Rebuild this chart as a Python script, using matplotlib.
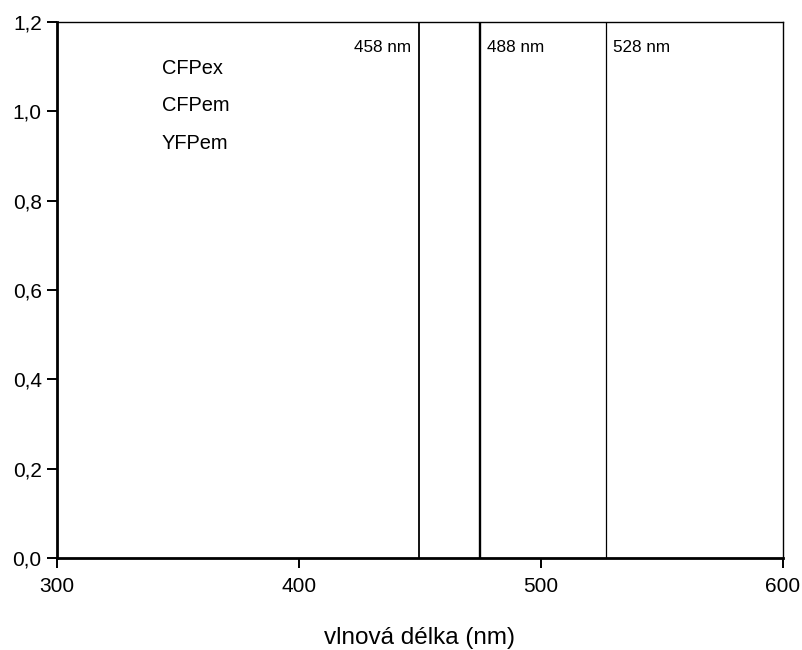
import matplotlib
matplotlib.use("Agg")
import matplotlib.pyplot as plt
from matplotlib.ticker import FuncFormatter

plt.rcParams['font.family'] = ['Liberation Sans', 'DejaVu Sans']

# laser lines (position on axis, label)
line_pos = [449.5, 474.9, 526.7]
line_labels = ['458 nm', '488 nm', '528 nm']
line_widths = [1.3, 1.7, 0.9]

# legend names (curves themselves are not visible)
series_names = ['CFPex', 'CFPem', 'YFPem']

x_ticks = [300, 400, 500, 600]
y_ticks = [0.0, 0.2, 0.4, 0.6, 0.8, 1.0, 1.2]

fig = plt.figure(figsize=(8.03, 6.5), dpi=100)
ax = fig.add_axes([0.071, 0.1415, 0.904, 0.8245])

for x, lw in zip(line_pos, line_widths):
    ax.axvline(x, color='black', lw=lw)

ax.text(line_pos[0] - 3.2, 1.144, line_labels[0], ha='right', va='center', fontsize=12.3)
ax.text(line_pos[1] + 2.8, 1.144, line_labels[1], ha='left', va='center', fontsize=12.3)
ax.text(line_pos[2] + 3.1, 1.144, line_labels[2], ha='left', va='center', fontsize=12.3)

legend_y = [1.097, 1.014, 0.929]
for name, y in zip(series_names, legend_y):
    ax.text(343.4, y, name, ha='left', va='center', fontsize=14.4)

ax.set_xlim(300, 600)
ax.set_ylim(0, 1.2)
ax.set_xticks(x_ticks)
ax.set_yticks(y_ticks)
ax.yaxis.set_major_formatter(FuncFormatter(lambda v, p: f'{v:.1f}'.replace('.', ',')))
ax.tick_params(axis='both', direction='out', length=7, width=1.4, labelsize=15, pad=4)
ax.tick_params(axis='x', pad=7)

ax.spines['left'].set_linewidth(2)
ax.spines['bottom'].set_linewidth(2)
ax.spines['top'].set_linewidth(1)
ax.spines['right'].set_linewidth(1)

ax.set_xlabel('vlnová délka (nm)', fontsize=17.5, labelpad=22)

fig.savefig('out.png', dpi=100)
